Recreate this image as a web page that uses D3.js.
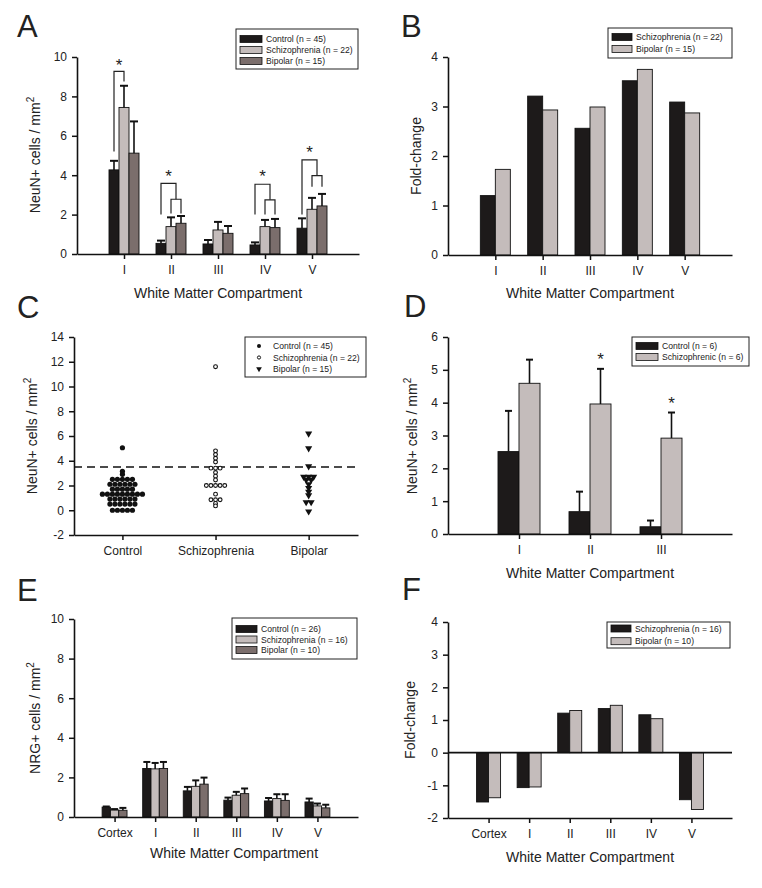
<!DOCTYPE html>
<html>
<head>
<meta charset="utf-8">
<script src="https://cdn.jsdelivr.net/npm/d3@7"></script>
<style>
  body { margin: 0; background: #fff; }
  svg { display: block; }
  text { font-family: "Liberation Sans", Arial, sans-serif; fill: #222; }
</style>
</head>
<body>
<svg id="fig" width="762" height="888"></svg>
<script>
// ---- data ----
const compartments = ['I', 'II', 'III', 'IV', 'V']
const neunControl = [4.27, 0.54, 0.51, 0.46, 1.31]
const neunControlErr = [0.46, 0.14, 0.2, 0.13, 0.5]
const neunSchizo = [7.44, 1.39, 1.22, 1.39, 2.27]
const neunSchizoErr = [1.1, 0.47, 0.41, 0.34, 0.58]
const neunBipolar = [5.12, 1.56, 1.05, 1.34, 2.44]
const neunBipolarErr = [1.61, 0.37, 0.37, 0.44, 0.61]
// significance brackets for A (data units)
const sigBrackets = [
  { cat: 0, top: 9.27, leftLow: 5.2, rightLow: 8.76, star: 9.75 },
  { cat: 1, top: 3.59, leftLow: 2.0, sub: 2.78, subLow: 2.05, star: 4.1 },
  { cat: 3, top: 3.54, leftLow: 2.0, sub: 2.75, subLow: 2.0, star: 4.1 },
  { cat: 4, top: 4.78, leftLow: 2.0, sub: 3.98, subLow: 3.42, star: 5.35 }
]

const foldSchizo = [1.2, 3.21, 2.56, 3.52, 3.09]
const foldBipolar = [1.73, 2.93, 2.99, 3.75, 2.87]

const groups = ['Control', 'Schizophrenia', 'Bipolar']
const scatterControl = [5.05, 3.15, 2.9,
  2.5, 2.5, 2.5, 2.5, 2.5,
  2.1, 2.1, 2.1, 2.1, 2.1, 2.1,
  1.7, 1.7, 1.7, 1.7, 1.7,
  1.3, 1.3, 1.3, 1.3, 1.3, 1.3, 1.3, 1.3, 1.3,
  0.9, 0.9, 0.9, 0.9, 0.9, 0.9,
  0.5, 0.5, 0.5, 0.5, 0.5, 0.5,
  0.0, 0.0, 0.0, 0.0, 0.0]
const scatterSchizo = [11.6, 4.8, 4.5, 4.2, 3.9, 3.4, 3.4, 3.4, 3.05, 2.75, 2.45,
  2.0, 2.0, 2.0, 2.0, 2.0, 1.3, 0.85, 0.85, 0.85, 0.55, 0.35]
const scatterBipolar = [6.2, 5.0, 3.55, 2.7, 2.7, 2.7, 2.45, 2.45, 2.1, 1.8, 1.5, 1.2, 0.65, 0.65, -0.1]
const cutoff = 3.5

const dCats = ['I', 'II', 'III']
const dControl = [2.51, 0.68, 0.22]
const dControlErr = [1.24, 0.61, 0.19]
const dSchizo = [4.59, 3.96, 2.92]
const dSchizoErr = [0.72, 1.07, 0.78]
const dStars = [1, 2]

const eCats = ['Cortex', 'I', 'II', 'III', 'IV', 'V']
const nrgControl = [0.5, 2.45, 1.32, 0.85, 0.81, 0.76]
const nrgControlErr = [0.03, 0.33, 0.2, 0.13, 0.15, 0.17]
const nrgSchizo = [0.35, 2.43, 1.55, 1.1, 0.93, 0.56]
const nrgSchizoErr = [0.05, 0.3, 0.3, 0.17, 0.22, 0.12]
const nrgBipolar = [0.34, 2.45, 1.66, 1.18, 0.84, 0.46]
const nrgBipolarErr = [0.12, 0.33, 0.33, 0.26, 0.31, 0.16]

const nrgFoldSchizo = [-1.51, -1.07, 1.21, 1.35, 1.16, -1.44]
const nrgFoldBipolar = [-1.38, -1.05, 1.29, 1.45, 1.04, -1.74]

// ---- drawing ----
const dark = '#1d1a1a'
const light = '#c4bcbb'
const mid = '#7b6e6c'
const svg = d3.select('#fig')
svg.append('rect').attr('width', 762).attr('height', 888).attr('fill', '#fff')

const styleAxis = (ax) => {
  ax.attr('font-family', null).attr('font-size', 12)
  ax.select('.domain').attr('stroke', '#111').attr('stroke-width', 1.6)
  ax.selectAll('.tick line').attr('stroke', '#111').attr('stroke-width', 1.5)
  ax.selectAll('.tick text').attr('fill', '#222')
}

const yLabel = (x, y, txt, sup) => {
  const t = svg.append('text')
    .attr('transform', `translate(${x},${y}) rotate(-90)`)
    .attr('text-anchor', 'middle').attr('font-size', 14)
  t.append('tspan').text(txt)
  if (sup) t.append('tspan').attr('dy', -6).attr('font-size', 10).text(sup)
}

const title = (x, y, txt) =>
  svg.append('text').attr('x', x).attr('y', y).attr('text-anchor', 'middle').attr('font-size', 14).text(txt)

const letter = (x, y, txt) =>
  svg.append('text').attr('x', x).attr('y', y).attr('font-size', 31).text(txt)

const legend = (box, rows, gap, first, swatch) => {
  const g = svg.append('g')
  g.append('rect').attr('x', box.x).attr('y', box.y).attr('width', box.w).attr('height', box.h)
    .attr('fill', '#fff').attr('stroke', '#222').attr('stroke-width', 1)
  rows.forEach((r, i) => {
    const cy = box.y + first + i * gap
    if (r.color) {
      g.append('rect').attr('x', box.x + 4).attr('y', cy - 3.5).attr('width', swatch).attr('height', 7)
        .attr('fill', r.color).attr('stroke', '#111').attr('stroke-width', 0.8)
    } else {
      r.draw(g, box.x + 14, cy)
    }
    g.append('text').attr('x', box.x + (r.color ? swatch + 8 : 28)).attr('y', cy + 3)
      .attr('font-size', 8.6).text(r.label)
  })
}

function barPanel(o) {
  const g = svg.append('g')
  const n = o.cats.length
  const x = d3.scaleLinear().domain([0, n + 1]).range([o.left, o.right])
  const y = d3.scaleLinear().domain(o.yDomain).range([o.bottom, o.top])
  const k = o.series.length
  o.series.forEach((s, si) => {
    const off = (si - k / 2) * o.barW
    g.append('g').selectAll('rect').data(s.values).join('rect')
      .attr('x', (d, i) => x(i + 1) + off)
      .attr('y', (d) => y(Math.max(0, d)))
      .attr('width', o.barW)
      .attr('height', (d) => Math.abs(y(d) - y(0)))
      .attr('fill', s.color).attr('stroke', '#111').attr('stroke-width', 0.9)
    if (s.errs) {
      const cx = (i) => x(i + 1) + off + o.barW / 2
      const eg = g.append('g').attr('stroke', '#111')
      eg.selectAll('line.v').data(s.values).join('line').attr('class', 'v')
        .attr('x1', (d, i) => cx(i)).attr('x2', (d, i) => cx(i))
        .attr('y1', (d) => y(d)).attr('y2', (d, i) => y(d + s.errs[i]))
        .attr('stroke-width', 1.6)
      eg.selectAll('line.c').data(s.values).join('line').attr('class', 'c')
        .attr('x1', (d, i) => cx(i) - o.cap / 2).attr('x2', (d, i) => cx(i) + o.cap / 2)
        .attr('y1', (d, i) => y(d + s.errs[i])).attr('y2', (d, i) => y(d + s.errs[i]))
        .attr('stroke-width', 2)
    }
  })
  if (o.zeroLine) {
    g.append('line').attr('x1', o.left).attr('x2', o.right).attr('y1', y(0)).attr('y2', y(0))
      .attr('stroke', '#111').attr('stroke-width', 1.6)
  }
  const yAx = g.append('g').attr('transform', `translate(${o.left},0)`)
    .call(d3.axisLeft(y).tickValues(o.yTicks).tickFormat((d) => String(d))
      .tickSize(5).tickPadding(5).tickSizeOuter(0))
  const xAx = g.append('g').attr('transform', `translate(0,${o.bottom})`)
    .call(d3.axisBottom(x).tickValues(d3.range(1, n + 1)).tickFormat((i) => o.cats[i - 1])
      .tickSize(5).tickPadding(6).tickSizeOuter(0))
  styleAxis(yAx)
  styleAxis(xAx)
  return { g, x, y }
}

const star = (g, x, y) =>
  g.append('text').attr('x', x).attr('y', y + 9).attr('text-anchor', 'middle').attr('font-size', 17).text('*')

// ---- A ----
const A = barPanel({
  left: 77, right: 359, top: 57, bottom: 254, yDomain: [0, 10], yTicks: [0, 2, 4, 6, 8, 10],
  cats: compartments, barW: 10, cap: 8,
  series: [
    { values: neunControl, errs: neunControlErr, color: dark },
    { values: neunSchizo, errs: neunSchizoErr, color: light },
    { values: neunBipolar, errs: neunBipolarErr, color: mid }
  ]
})
{
  const bg = A.g.append('g').attr('stroke', '#222').attr('stroke-width', 1.2).attr('fill', 'none')
  sigBrackets.forEach((b) => {
    const c = A.x(b.cat + 1)
    const xc = c - 10, xs = c, xb = c + 10
    if (b.sub === undefined) {
      bg.append('path').attr('d', `M${xc},${A.y(b.leftLow)}V${A.y(b.top)}H${xs}V${A.y(b.rightLow)}`)
      star(A.g, (xc + xs) / 2, A.y(b.star))
    } else {
      const xm = (xs + xb) / 2
      bg.append('path').attr('d', `M${xc},${A.y(b.leftLow)}V${A.y(b.top)}H${xm}V${A.y(b.sub)}`)
      bg.append('path').attr('d', `M${xs},${A.y(b.subLow)}V${A.y(b.sub)}H${xb}V${A.y(b.subLow)}`)
      star(A.g, (xc + xm) / 2, A.y(b.star))
    }
  })
}
yLabel(40, 155, 'NeuN+ cells / mm', '2')
title(218, 298, 'White Matter Compartment')
letter(17, 37, 'A')
legend({ x: 236, y: 29, w: 122, h: 40 }, [
  { label: 'Control (n = 45)', color: dark },
  { label: 'Schizophrenia (n = 22)', color: light },
  { label: 'Bipolar (n = 15)', color: mid }
], 11, 10, 22)

// ---- B ----
barPanel({
  left: 448, right: 732, top: 57, bottom: 255, yDomain: [0, 4], yTicks: [0, 1, 2, 3, 4],
  cats: compartments, barW: 15,
  series: [
    { values: foldSchizo, color: dark },
    { values: foldBipolar, color: light }
  ]
})
yLabel(421, 156, 'Fold-change')
title(590, 298, 'White Matter Compartment')
letter(401, 37, 'B')
legend({ x: 608, y: 28, w: 124, h: 30 }, [
  { label: 'Schizophrenia (n = 22)', color: dark },
  { label: 'Bipolar (n = 15)', color: light }
], 12, 9, 20)

// ---- C ----
{
  const g = svg.append('g')
  const x = d3.scaleLinear().domain([-0.52, 2.53]).range([74, 358])
  const y = d3.scaleLinear().domain([-2, 14]).range([535, 337])
  const layout = (vals, gi, gap) => {
    const rows = d3.group(vals, (v) => v)
    const pts = []
    for (const [v, arr] of rows) {
      arr.forEach((_, j) => pts.push({ v, cx: x(gi) + (j - (arr.length - 1) / 2) * gap }))
    }
    return pts
  }
  g.append('line').attr('x1', 74).attr('x2', 358).attr('y1', y(cutoff)).attr('y2', y(cutoff))
    .attr('stroke', '#111').attr('stroke-width', 1.5).attr('stroke-dasharray', '8,5')
  g.append('g').selectAll('circle').data(layout(scatterControl, 0, 5)).join('circle')
    .attr('cx', (d) => d.cx).attr('cy', (d) => y(d.v)).attr('r', 2.6).attr('fill', '#111')
  g.append('g').selectAll('circle').data(layout(scatterSchizo, 1, 4.6)).join('circle')
    .attr('cx', (d) => d.cx).attr('cy', (d) => y(d.v)).attr('r', 1.9)
    .attr('fill', '#fff').attr('stroke', '#111').attr('stroke-width', 1.1)
  const tri = d3.symbol(d3.symbolTriangle, 22)
  g.append('g').selectAll('path').data(layout(scatterBipolar, 2, 5)).join('path')
    .attr('d', tri).attr('fill', '#111')
    .attr('transform', (d) => `translate(${d.cx},${y(d.v)}) rotate(180)`)
  const yAx = g.append('g').attr('transform', 'translate(74,0)')
    .call(d3.axisLeft(y).tickValues(d3.range(-2, 15, 2)).tickFormat((d) => String(d))
      .tickSize(5).tickPadding(5).tickSizeOuter(0))
  const xAx = g.append('g').attr('transform', 'translate(0,535)')
    .call(d3.axisBottom(x).tickValues([0, 1, 2]).tickFormat((i) => groups[i])
      .tickSize(5).tickPadding(6).tickSizeOuter(0))
  styleAxis(yAx)
  styleAxis(xAx)
}
yLabel(37, 436, 'NeuN+ cells / mm', '2')
letter(17, 318, 'C')
legend({ x: 245, y: 337, w: 121, h: 40 }, [
  { label: 'Control (n = 45)', draw: (g, cx, cy) => g.append('circle').attr('cx', cx).attr('cy', cy).attr('r', 2).attr('fill', '#111') },
  { label: 'Schizophrenia (n = 22)', draw: (g, cx, cy) => g.append('circle').attr('cx', cx).attr('cy', cy).attr('r', 1.6).attr('fill', '#fff').attr('stroke', '#111').attr('stroke-width', 1) },
  { label: 'Bipolar (n = 15)', draw: (g, cx, cy) => g.append('path').attr('d', d3.symbol(d3.symbolTriangle, 14)).attr('fill', '#111').attr('transform', `translate(${cx},${cy}) rotate(180)`) }
], 11.5, 9)

// ---- D ----
const D = barPanel({
  left: 448, right: 732, top: 337, bottom: 534, yDomain: [0, 6], yTicks: [0, 1, 2, 3, 4, 5, 6],
  cats: dCats, barW: 21, cap: 7,
  series: [
    { values: dControl, errs: dControlErr, color: dark },
    { values: dSchizo, errs: dSchizoErr, color: light }
  ]
})
dStars.forEach((i) => star(D.g, D.x(i + 1) + 10.5, D.y(dSchizo[i] + dSchizoErr[i] + 0.38)))
yLabel(417, 436, 'NeuN+ cells / mm', '2')
title(590, 578, 'White Matter Compartment')
letter(404, 317, 'D')
legend({ x: 632, y: 337, w: 117, h: 29 }, [
  { label: 'Control (n = 6)', color: dark },
  { label: 'Schizophrenic (n = 6)', color: light }
], 11, 9, 22)

// ---- E ----
barPanel({
  left: 74, right: 358, top: 619, bottom: 817, yDomain: [0, 10], yTicks: [0, 2, 4, 6, 8, 10],
  cats: eCats, barW: 8.3, cap: 7,
  series: [
    { values: nrgControl, errs: nrgControlErr, color: dark },
    { values: nrgSchizo, errs: nrgSchizoErr, color: light },
    { values: nrgBipolar, errs: nrgBipolarErr, color: mid }
  ]
})
yLabel(40, 718, 'NRG+ cells / mm', '2')
title(234, 858, 'White Matter Compartment')
letter(17, 601, 'E')
legend({ x: 232, y: 618, w: 125, h: 41 }, [
  { label: 'Control (n = 26)', color: dark },
  { label: 'Schizophrenia (n = 16)', color: light },
  { label: 'Bipolar (n = 10)', color: mid }
], 10.5, 11, 21)

// ---- F ----
barPanel({
  left: 448, right: 732, top: 622, bottom: 818, yDomain: [-2, 4], yTicks: [-2, -1, 0, 1, 2, 3, 4],
  cats: eCats, barW: 12, zeroLine: true,
  series: [
    { values: nrgFoldSchizo, color: dark },
    { values: nrgFoldBipolar, color: light }
  ]
})
yLabel(415, 720, 'Fold-change')
title(590, 862, 'White Matter Compartment')
letter(402, 600, 'F')
legend({ x: 607, y: 622, w: 123, h: 26 }, [
  { label: 'Schizophrenia (n = 16)', color: dark },
  { label: 'Bipolar (n = 10)', color: light }
], 12.7, 6.5, 20)
</script>
</body>
</html>
